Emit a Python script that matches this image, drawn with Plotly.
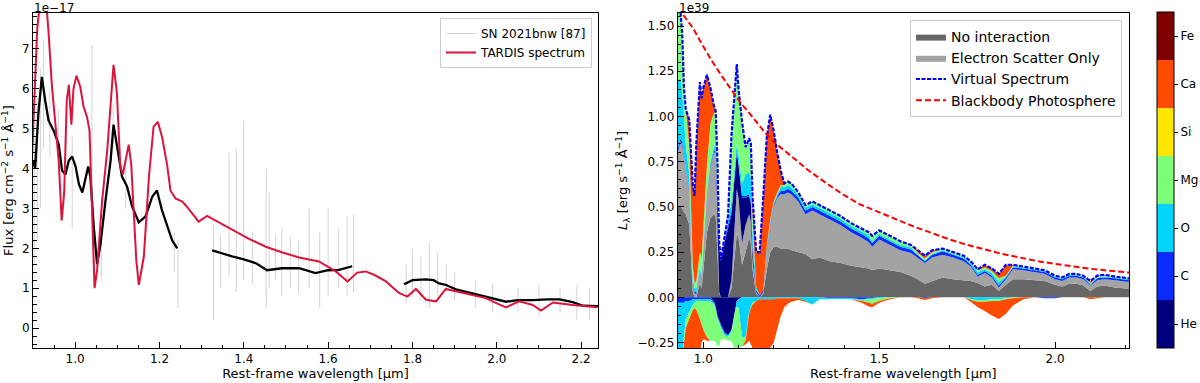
import plotly.graph_objects as go

# ---------------- Left panel data (flux in units of 1e-17) ----------------
tardis_wl = [0.897, 0.903, 0.910, 0.925, 0.937, 0.945, 0.953, 0.961, 0.968, 0.974,
             0.980, 0.985, 0.991, 0.996, 1.003, 1.012, 1.020, 1.028, 1.034, 1.040,
             1.046, 1.052, 1.064, 1.076, 1.084, 1.091, 1.099, 1.107, 1.113, 1.123,
             1.127, 1.133, 1.139, 1.145, 1.151, 1.163, 1.175, 1.186, 1.196, 1.206,
             1.218, 1.226, 1.238, 1.254, 1.262, 1.293, 1.313, 1.340, 1.372, 1.410,
             1.452, 1.490, 1.531, 1.578, 1.618, 1.646, 1.669, 1.689, 1.710, 1.737,
             1.768, 1.788, 1.808, 1.832, 1.856, 1.879, 1.900, 1.927, 1.974, 2.000,
             2.022, 2.053, 2.085, 2.105, 2.133, 2.180, 2.238]
tardis_flux = [4.1, 5.5, 7.5, 9.0, 7.4, 6.05, 5.2, 4.2, 2.7, 3.4,
               5.7, 6.1, 5.1, 6.0, 6.33, 6.05, 5.55, 5.3, 4.95, 2.95,
               1.0, 1.45, 3.2, 4.45, 5.7, 6.6, 5.9, 4.05, 3.85, 4.45,
               4.6, 4.1, 2.95, 1.7, 1.08, 1.8, 3.8, 5.05, 5.17, 4.8,
               4.1, 3.45, 3.25, 3.17, 3.08, 2.67, 2.81, 2.65, 2.46, 2.25,
               2.04, 1.9, 1.77, 1.67, 1.42, 1.17, 1.39, 1.42, 1.33, 1.17,
               0.88, 0.79, 0.98, 0.71, 0.67, 0.98, 0.93, 0.87, 0.75, 0.62,
               0.52, 0.67, 0.58, 0.44, 0.64, 0.58, 0.52]

obs_wl = [0.900, 0.905, 0.913, 0.921, 0.929, 0.937, 0.949, 0.961, 0.969, 0.977,
          0.985, 0.993, 1.001, 1.009, 1.017, 1.025, 1.031, 1.036, 1.044, 1.052,
          1.060, 1.072, 1.084, 1.091, 1.099, 1.111, 1.123, 1.135, 1.151, 1.167,
          1.183, 1.194, 1.206, 1.218, 1.230, 1.242, None,
          1.325, 1.340, 1.372, 1.400, 1.430, 1.455, 1.490, 1.531, 1.570, 1.600,
          1.626, 1.657, None,
          1.780, 1.800, 1.832, 1.850, 1.863, 1.880, 1.903, 1.930, 1.966, 2.000,
          2.022, 2.050, 2.085, 2.120, 2.149, 2.180, 2.204, 2.240]
obs_flux = [4.2, 4.0, 5.4, 6.3, 5.7, 5.2, 4.95, 4.6, 3.95, 3.85,
            4.2, 4.3, 4.05, 3.6, 3.4, 3.8, 4.05, 3.8, 2.55, 1.6,
            2.1, 3.2, 4.2, 5.1, 4.6, 3.8, 3.55, 3.05, 2.65, 2.8,
            3.3, 3.45, 2.95, 2.6, 2.2, 2.0, None,
            1.95, 1.9, 1.8, 1.72, 1.62, 1.45, 1.5, 1.5, 1.38, 1.45,
            1.46, 1.55, None,
            1.1, 1.2, 1.22, 1.2, 1.12, 1.08, 0.97, 0.9, 0.8, 0.72,
            0.66, 0.7, 0.7, 0.72, 0.72, 0.65, 0.56, 0.55]

# raw-spectrum excursions (wavelength, low, high)
spike_wl = [0.903, 0.910, 0.918, 0.925, 0.940, 0.960, 0.993, 1.040, 1.062, 1.090,
            1.120, 1.170, 1.235, 1.244, 1.328, 1.345, 1.365, 1.382, 1.400, 1.420,
            1.453, 1.460, 1.475, 1.490, 1.510, 1.530, 1.555, 1.580, 1.600, 1.625,
            1.645, 1.660, 1.785, 1.800, 1.820, 1.840, 1.860, 1.880, 1.900, 1.950,
            1.990, 2.050, 2.100, 2.150, 2.190, 2.220]
spike_lo = [1.6, 2.2, 3.0, 4.5, 4.3, 4.0, 2.5, 3.0, 1.2, 4.5,
            3.0, 2.4, 1.4, 0.5, 0.2, 1.0, 1.3, 0.9, 1.2, 1.1,
            0.5, 1.0, 1.2, 0.8, 1.0, 0.9, 1.0, 0.5, 0.8, 1.0,
            0.8, 0.9, 0.6, 0.8, 0.7, 0.5, 0.8, 0.9, 0.7, 0.5,
            0.4, 0.4, 0.3, 0.4, 0.2, 0.2]
spike_hi = [5.0, 5.8, 6.5, 7.2, 6.0, 5.5, 4.8, 7.1, 2.5, 5.6,
            4.3, 3.2, 2.4, 2.2, 2.6, 2.3, 4.4, 4.5, 5.2, 2.4,
            4.0, 3.4, 2.3, 2.5, 2.3, 2.2, 3.0, 2.4, 3.0, 2.5,
            2.8, 2.85, 1.6, 2.0, 1.8, 2.15, 1.9, 1.6, 1.4, 1.2,
            1.1, 1.0, 1.1, 1.0, 1.1, 1.0]

# ---------------- Right panel data (luminosity in units of 1e39) ----------------
sdec_wl = [0.927, 0.935, 0.94, 0.945, 0.95, 0.96, 0.97, 0.975, 0.98, 0.99,
           0.995, 1.0, 1.01, 1.02, 1.03, 1.035, 1.04, 1.045, 1.05, 1.06,
           1.07, 1.08, 1.09, 1.095, 1.10, 1.11, 1.12, 1.13, 1.135, 1.14,
           1.15, 1.16, 1.17, 1.18, 1.19, 1.20, 1.21, 1.22, 1.23, 1.24,
           1.25, 1.27, 1.29, 1.31, 1.33, 1.36, 1.39, 1.42, 1.45, 1.47,
           1.48, 1.50, 1.53, 1.56, 1.59, 1.61, 1.63, 1.65, 1.68, 1.71,
           1.74, 1.76, 1.78, 1.80, 1.82, 1.84, 1.86, 1.88, 1.91, 1.94,
           1.97, 2.00, 2.02, 2.04, 2.06, 2.08, 2.10, 2.12, 2.14, 2.17, 2.21]

no_interaction = [0.50, 0.50, 0.49, 0.47, 0.46, 0.40, 0.03, 0.0, 0.0, 0.08,
                  0.05, 0.15, 0.36, 0.44, 0.46, 0.45, 0.20, 0.02, 0.0, 0.0,
                  0.0, 0.05, 0.25, 0.35, 0.33, 0.18, 0.25, 0.33, 0.30, 0.15,
                  0.02, 0.0, 0.02, 0.15, 0.25, 0.28, 0.28, 0.27, 0.27, 0.27,
                  0.26, 0.25, 0.24, 0.21, 0.22, 0.20, 0.19, 0.175, 0.165, 0.16,
                  0.15, 0.16, 0.15, 0.14, 0.12, 0.10, 0.075, 0.09, 0.11, 0.10,
                  0.095, 0.09, 0.08, 0.06, 0.07, 0.035, 0.07, 0.10, 0.10, 0.095,
                  0.09, 0.07, 0.06, 0.075, 0.075, 0.065, 0.035, 0.06, 0.065, 0.055, 0.047]
electron_scatter = [0.30, 0.36, 0.35, 0.29, 0.24, 0.18, 0.03, 0.02, 0.02, 0.06,
                    0.04, 0.11, 0.20, 0.28, 0.34, 0.35, 0.16, 0.01, 0.0, 0.0,
                    0.0, 0.05, 0.20, 0.25, 0.22, 0.12, 0.15, 0.13, 0.12, 0.05,
                    0.01, 0.0, 0.01, 0.10, 0.15, 0.22, 0.27, 0.30, 0.30, 0.31,
                    0.31, 0.28, 0.22, 0.27, 0.24, 0.23, 0.21, 0.185, 0.165, 0.145,
                    0.13, 0.16, 0.14, 0.12, 0.125, 0.115, 0.115, 0.13, 0.125, 0.12,
                    0.105, 0.08, 0.035, 0.075, 0.04, 0.02, 0.03, 0.055, 0.05, 0.045,
                    0.04, 0.03, 0.03, 0.035, 0.035, 0.035, 0.03, 0.035, 0.035, 0.04, 0.038]

em_he = [0, 0, 0, 0, 0, 0, 0, 0, 0, 0,
         0, 0, 0, 0, 0, 0, 0.10, 0.24, 0.20, 0.30,
         0.38, 0.36, 0.24, 0.20, 0.18, 0.25, 0.15, 0.10, 0.10, 0.05,
         0, 0, 0, 0, 0, 0, 0, 0, 0, 0,
         0, 0, 0, 0, 0, 0, 0, 0, 0, 0,
         0, 0, 0, 0, 0, 0, 0, 0, 0, 0,
         0, 0, 0, 0, 0, 0, 0, 0, 0, 0,
         0, 0, 0, 0, 0, 0, 0, 0, 0, 0, 0]
em_c = [0.02, 0.02, 0.02, 0.02, 0.01, 0.01, 0.01, 0.01, 0.01, 0.01,
        0.01, 0.01, 0.01, 0.01, 0.01, 0.01, 0.02, 0.01, 0.01, 0.01,
        0.02, 0.02, 0.01, 0.01, 0.01, 0.01, 0.01, 0.01, 0.01, 0.01,
        0.01, 0.01, 0.01, 0.01, 0.01, 0.01, 0.01, 0.02, 0.02, 0.02,
        0.02, 0.02, 0.02, 0.02, 0.02, 0.02, 0.02, 0.02, 0.02, 0.02,
        0.02, 0.02, 0.02, 0.02, 0.02, 0.015, 0.01, 0.015, 0.02, 0.015,
        0.015, 0.01, 0.01, 0.01, 0.01, 0.01, 0.01, 0.01, 0.01, 0.01,
        0.01, 0.01, 0.01, 0.01, 0.01, 0.01, 0.005, 0.01, 0.01, 0.01, 0.01]
em_o = [0.38, 0.33, 0.27, 0.17, 0.13, 0.09, 0.04, 0.02, 0.02, 0.02,
        0.02, 0.02, 0.02, 0.02, 0.02, 0.04, 0.08, 0.01, 0.0, 0.01,
        0.03, 0.05, 0.05, 0.04, 0.05, 0.07, 0.12, 0.12, 0.13, 0.10,
        0.02, 0.0, 0.0, 0.01, 0.01, 0.01, 0.01, 0.02, 0.02, 0.02,
        0.02, 0.015, 0.015, 0.015, 0.015, 0.015, 0.015, 0.015, 0.015, 0.015,
        0.01, 0.01, 0.01, 0.01, 0.01, 0.005, 0.005, 0.005, 0.005, 0.005,
        0.005, 0.01, 0.015, 0.01, 0.015, 0.02, 0.005, 0.005, 0.005, 0.005,
        0.005, 0.005, 0.005, 0.005, 0.005, 0.005, 0.005, 0.005, 0.005, 0.005, 0.005]
em_mg = [0.40, 0.37, 0.32, 0.20, 0.20, 0.15, 0.06, 0.03, 0.04, 0.08,
         0.10, 0.10, 0.14, 0.21, 0.19, 0.17, 0.19, 0.01, 0.0, 0.0,
         0.02, 0.37, 0.43, 0.44, 0.36, 0.34, 0.15, 0.19, 0.19, 0.09,
         0.0, 0.0, 0.0, 0.01, 0.01, 0.01, 0.01, 0.01, 0.01, 0.02,
         0.02, 0.015, 0.015, 0.015, 0.015, 0.015, 0.015, 0.015, 0.015, 0.02,
         0.03, 0.02, 0.02, 0.02, 0.015, 0.01, 0.01, 0.01, 0.01, 0.01,
         0.01, 0.01, 0.01, 0.01, 0.01, 0.02, 0.005, 0.005, 0.005, 0.005,
         0.005, 0.005, 0.005, 0.005, 0.005, 0.005, 0.005, 0.005, 0.005, 0.005, 0.005]
em_ca = [0, 0, 0, 0, 0, 0.15, 0.45, 0.48, 0.76, 0.94,
         0.88, 0.77, 0.50, 0.20, 0.04, 0.01, 0, 0, 0, 0,
         0, 0, 0, 0, 0, 0, 0, 0, 0, 0.10,
         0.19, 0.24, 0.51, 0.60, 0.58, 0.39, 0.22, 0.08, 0.01, 0,
         0, 0, 0, 0, 0, 0, 0, 0, 0, 0,
         0, 0, 0, 0, 0, 0.015, 0.015, 0.01, 0, 0,
         0, 0, 0.005, 0.015, 0.015, 0.025, 0.06, 0.005, 0, 0,
         0, 0, 0, 0, 0, 0, 0.01, 0.005, 0.005, 0, 0]

ab_he = [0, 0, 0, 0, 0, 0, 0, 0, 0, 0,
         0, 0, 0, 0, -0.02, -0.05, -0.10, -0.13, -0.15, -0.19,
         -0.21, -0.18, -0.06, -0.02, -0.01, 0, 0, 0, 0, 0,
         0, 0, 0, 0, 0, 0, 0, 0, 0, 0,
         0, 0, 0, 0, 0, 0, 0, 0, 0, 0,
         0, 0, 0, 0, 0, 0, 0, 0, 0, 0,
         0, 0, 0, 0, 0, 0, 0, 0, 0, 0,
         0, 0, 0, 0, 0, 0, 0, 0, 0, 0, 0]
ab_c = [-0.03, -0.03, -0.03, -0.03, -0.02, -0.02, -0.01, -0.01, -0.01, -0.01,
        -0.01, -0.01, -0.01, -0.01, -0.01, -0.01, -0.01, -0.01, -0.01, -0.01,
        0, 0, 0, 0, 0, 0, 0, 0, 0, 0,
        0, 0, 0, 0, 0, 0, 0, 0, 0, 0,
        0, 0, 0, 0, 0, -0.005, -0.005, -0.005, -0.01, -0.005,
        -0.005, 0, 0, 0, 0, 0, -0.005, 0, 0, 0,
        0, 0, 0, 0, 0, 0, 0, 0, 0, 0,
        -0.005, -0.005, 0, 0, 0, 0, 0, 0, 0, 0, 0]
ab_o = [-0.30, -0.30, -0.28, -0.18, -0.10, -0.06, -0.03, -0.02, -0.01, -0.01,
        -0.01, -0.01, -0.01, -0.01, -0.01, -0.01, -0.01, -0.01, -0.01, -0.01,
        -0.01, -0.01, -0.02, -0.03, -0.05, -0.22, -0.22, -0.08, -0.05, -0.03,
        -0.02, -0.01, -0.01, -0.01, -0.01, -0.01, -0.005, -0.005, -0.005, -0.005,
        -0.005, -0.005, -0.02, -0.04, -0.01, -0.005, -0.005, -0.005, -0.005, -0.005,
        -0.005, -0.005, 0, 0, 0, 0, 0, 0, 0, 0,
        0, -0.01, -0.015, -0.015, -0.01, -0.01, -0.005, 0, 0, 0,
        0, 0, 0, 0, 0, 0, 0, 0, 0, 0, 0]
ab_mg = [0, 0, -0.03, -0.05, -0.05, -0.04, -0.03, -0.03, -0.05, -0.10,
         -0.13, -0.16, -0.20, -0.22, -0.20, -0.18, -0.15, -0.12, -0.06, -0.02,
         -0.02, -0.05, -0.22, -0.25, -0.22, -0.05, -0.02, -0.01, -0.01, -0.01,
         0, 0, 0, 0, 0, 0, 0, 0, 0, 0,
         0, 0, 0, 0, 0, 0, 0, 0, -0.005, -0.02,
         -0.025, -0.015, -0.005, 0, 0, 0, 0, 0, 0, 0,
         0, -0.005, -0.01, -0.01, -0.01, -0.01, -0.005, -0.005, 0, 0,
         0, 0, 0, 0, 0, 0, 0, 0, 0, 0, 0]
ab_ca = [0, 0, 0, -0.06, -0.15, -0.20, -0.25, -0.26, -0.25, -0.18,
         -0.10, -0.05, -0.02, 0, 0, 0, 0, 0, 0, 0,
         0, 0, 0, 0, 0, 0, -0.02, -0.15, -0.20, -0.24,
         -0.27, -0.28, -0.28, -0.28, -0.27, -0.24, -0.17, -0.10, -0.05, -0.03,
         -0.02, -0.01, -0.005, 0, 0, 0, 0, 0, -0.01, -0.02,
         -0.02, -0.01, -0.005, 0, 0, -0.005, -0.01, -0.005, 0, 0,
         0, -0.01, -0.03, -0.05, -0.08, -0.10, -0.08, -0.04, -0.01, 0,
         0, 0, 0, 0, 0, 0, -0.01, -0.005, 0, 0, 0]

virtual_lum = [1.60, 1.58, 1.45, 1.15, 1.04, 0.98, 0.62, 0.56, 0.85, 1.19,
               1.10, 1.16, 1.23, 1.16, 1.06, 1.03, 0.75, 0.30, 0.21, 0.32,
               0.45, 0.90, 1.18, 1.29, 1.15, 0.97, 0.83, 0.88, 0.85, 0.55,
               0.25, 0.25, 0.55, 0.88, 1.01, 0.92, 0.80, 0.70, 0.63, 0.64,
               0.63, 0.58, 0.51, 0.53, 0.51, 0.48, 0.45, 0.41, 0.38, 0.36,
               0.34, 0.37, 0.34, 0.31, 0.29, 0.26, 0.23, 0.26, 0.27, 0.25,
               0.23, 0.20, 0.155, 0.18, 0.16, 0.13, 0.18, 0.18, 0.17, 0.16,
               0.15, 0.12, 0.11, 0.13, 0.13, 0.12, 0.09, 0.12, 0.125, 0.115, 0.105]

bb_wl = [0.943, 0.97, 0.99, 1.02, 1.05, 1.08, 1.104, 1.13, 1.15, 1.18, 1.20,
         1.25, 1.30, 1.35, 1.40, 1.445, 1.50, 1.55, 1.60, 1.65, 1.70, 1.75,
         1.80, 1.85, 1.90, 1.95, 2.00, 2.05, 2.10, 2.155, 2.21]
bb_lum = [1.56, 1.49, 1.42, 1.32, 1.23, 1.15, 1.08, 1.02, 0.97, 0.90, 0.86,
          0.78, 0.70, 0.63, 0.565, 0.514, 0.47, 0.43, 0.39, 0.355, 0.32, 0.29,
          0.265, 0.24, 0.22, 0.20, 0.185, 0.17, 0.158, 0.147, 0.137]

elements = ["He", "C", "O", "Mg", "Si", "Ca", "Fe"]
element_colors = ["#00007f", "#0a2cff", "#00d4ff", "#7cff79", "#ffe600", "#ff4a00", "#7f0000"]

# ---------------- Figure ----------------
W, H = 1200, 383
FONT = "DejaVu Sans"

def px_x(p):
    return p / W

def px_y(p):
    return 1 - p / H

fig = go.Figure()

# left panel: raw spectrum excursions
sx, sy = [], []
for w, lo, hi in zip(spike_wl, spike_lo, spike_hi):
    sx += [w, w, None]
    sy += [lo, hi, None]
fig.add_trace(go.Scatter(x=sx, y=sy, mode="lines", line=dict(color="#d4d4d4", width=1),
                         name="SN 2021bnw [87]", xaxis="x", yaxis="y", legend="legend"))
fig.add_trace(go.Scatter(x=obs_wl, y=obs_flux, mode="lines", line=dict(color="black", width=2.3),
                         showlegend=False, xaxis="x", yaxis="y", connectgaps=False))
fig.add_trace(go.Scatter(x=tardis_wl, y=tardis_flux, mode="lines", line=dict(color="#dc143c", width=2),
                         name="TARDIS spectrum", xaxis="x", yaxis="y", legend="legend"))

# right panel: stacked emission
fig.add_trace(go.Scatter(x=sdec_wl, y=no_interaction, mode="lines", stackgroup="em",
                         line=dict(width=0), fillcolor="#676767", name="No interaction",
                         xaxis="x2", yaxis="y2", legend="legend2"))
fig.add_trace(go.Scatter(x=sdec_wl, y=electron_scatter, mode="lines", stackgroup="em",
                         line=dict(width=0), fillcolor="#a3a3a3", name="Electron Scatter Only",
                         xaxis="x2", yaxis="y2", legend="legend2"))
em_series = {"He": em_he, "C": em_c, "O": em_o, "Mg": em_mg, "Ca": em_ca}
for el, vals in em_series.items():
    c = element_colors[elements.index(el)]
    fig.add_trace(go.Scatter(x=sdec_wl, y=vals, mode="lines", stackgroup="em",
                             line=dict(width=0), fillcolor=c, showlegend=False,
                             xaxis="x2", yaxis="y2"))
ab_series = {"He": ab_he, "C": ab_c, "O": ab_o, "Mg": ab_mg, "Ca": ab_ca}
for el, vals in ab_series.items():
    c = element_colors[elements.index(el)]
    fig.add_trace(go.Scatter(x=sdec_wl, y=vals, mode="lines", stackgroup="ab",
                             line=dict(width=0), fillcolor=c, showlegend=False,
                             xaxis="x2", yaxis="y2"))

fig.add_trace(go.Scatter(x=sdec_wl, y=virtual_lum, mode="lines",
                         line=dict(color="#0000ff", width=2.2, dash="4px,1.5px"),
                         name="Virtual Spectrum", xaxis="x2", yaxis="y2", legend="legend2"))
fig.add_trace(go.Scatter(x=bb_wl, y=bb_lum, mode="lines",
                         line=dict(color="#ff0000", width=2, dash="6px,3px"),
                         name="Blackbody Photosphere", xaxis="x2", yaxis="y2", legend="legend2"))

# colorbar for elements
n = len(elements)
cscale = []
for i, c in enumerate(element_colors):
    cscale.append([i / n, c])
    cscale.append([(i + 1) / n, c])
fig.add_trace(go.Scatter(
    x=[1.5], y=[-5], mode="markers", xaxis="x2", yaxis="y2", showlegend=False,
    marker=dict(color=[0], cmin=0, cmax=n, colorscale=cscale, showscale=True, size=1,
                colorbar=dict(x=px_x(1157), xanchor="left", xpad=0, ypad=0,
                              thickness=17, thicknessmode="pixels",
                              len=(348 - 12) / H, lenmode="fraction",
                              y=(px_y(12) + px_y(348)) / 2, yanchor="middle",
                              outlinewidth=1, outlinecolor="black",
                              tickmode="array", tickvals=[i + 0.5 for i in range(n)],
                              ticktext=elements, ticks="outside", ticklen=4,
                              tickcolor="black",
                              tickfont=dict(family=FONT, size=12, color="black"))),
    hoverinfo="skip"))

axis_common = dict(showline=True, linecolor="black", linewidth=1, mirror=True,
                   ticks="inside", ticklen=6, tickcolor="black", showgrid=False,
                   zeroline=False, automargin=False,
                   tickfont=dict(family=FONT, size=12, color="black"))

ydom = [px_y(348), px_y(13)]
fig.update_layout(
    width=W, height=H, margin=dict(l=0, r=0, t=0, b=0),
    paper_bgcolor="white", plot_bgcolor="white",
    font=dict(family=FONT, size=12, color="black"),
    xaxis=dict(domain=[px_x(33), px_x(598)], range=[0.9, 2.24], dtick=0.2, tick0=0,
               tickformat=".1f",
               minor=dict(ticks="inside", ticklen=3.5, dtick=0.05, tickcolor="black", showgrid=False),
               title=dict(text="Rest-frame wavelength [µm]", font=dict(size=13), standoff=0),
               anchor="y", **axis_common),
    yaxis=dict(domain=ydom, range=[-0.5, 7.9], dtick=1, tick0=0,
               minor=dict(ticks="inside", ticklen=3.5, dtick=0.2, tickcolor="black", showgrid=False),
               title=dict(text="Flux [erg cm<sup>−2</sup> s<sup>−1</sup> Å<sup>−1</sup>]",
                          font=dict(size=13), standoff=6),
               anchor="x", **axis_common),
    xaxis2=dict(domain=[px_x(677.7), px_x(1129)], range=[0.927, 2.21], dtick=0.5, tick0=0,
                tickformat=".1f",
                minor=dict(ticks="inside", ticklen=3.5, dtick=0.1, tickcolor="black", showgrid=False),
                title=dict(text="Rest-frame wavelength [µm]", font=dict(size=13), standoff=0),
                anchor="y2", **axis_common),
    yaxis2=dict(domain=ydom, range=[-0.28, 1.572], dtick=0.25, tick0=0, tickformat=".2f",
                minor=dict(ticks="inside", ticklen=3.5, dtick=0.05, tickcolor="black", showgrid=False),
                title=dict(text="<i>L</i><sub>λ</sub> [erg s<sup>−1</sup> Å<sup>−1</sup>]",
                           font=dict(size=13), standoff=6),
                anchor="x2", **axis_common),
    legend=dict(x=px_x(592), xanchor="right", y=px_y(18), yanchor="top",
                bgcolor="rgba(255,255,255,0.85)", bordercolor="#cccccc", borderwidth=1,
                font=dict(family=FONT, size=12), itemwidth=30, tracegroupgap=0,
                traceorder="normal"),
    legend2=dict(x=px_x(1122), xanchor="right", y=px_y(20), yanchor="top",
                 bgcolor="rgba(255,255,255,0.85)", bordercolor="#cccccc", borderwidth=1,
                 font=dict(family=FONT, size=14), itemwidth=30, tracegroupgap=0,
                 traceorder="normal"),
    annotations=[
        dict(text="1e−17", x=px_x(33), y=1, xref="paper", yref="paper",
             xanchor="left", yanchor="top", showarrow=False, borderpad=0,
             font=dict(size=12)),
        dict(text="1e39", x=px_x(678), y=1, xref="paper", yref="paper",
             xanchor="left", yanchor="top", showarrow=False, borderpad=0,
             font=dict(size=12)),
    ],
)

fig.write_html("out.html")
